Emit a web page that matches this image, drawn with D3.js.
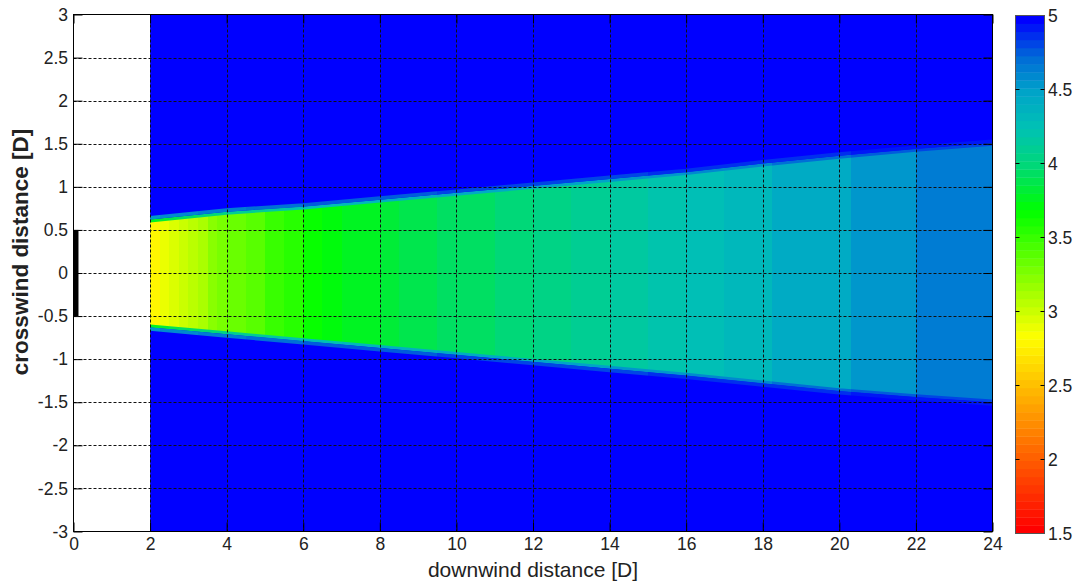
<!DOCTYPE html>
<html>
<head>
<meta charset="utf-8">
<script src="https://cdn.jsdelivr.net/npm/d3@7/dist/d3.min.js"></script>
<style>
  body { margin: 0; background: #fff; }
  text { font-family: "Liberation Sans", Arial, sans-serif; fill: #222; }
</style>
</head>
<body>
<svg id="chart" width="1080" height="588"></svg>
<script>
const colStart = [2, 2.25, 2.5, 2.75, 3, 3.25, 3.5, 3.75, 4, 4.5, 5, 5.5, 6, 6.5, 7, 7.5, 8, 8.5, 9, 9.5,
                  10, 11, 12, 13, 14, 15, 16, 17, 18.25, 20.3, 22];
const colValue = [2.80, 2.88, 2.95, 3.02, 3.08, 3.14, 3.20, 3.26, 3.32, 3.40, 3.48, 3.56, 3.64, 3.70, 3.75, 3.79, 3.83, 3.86, 3.89, 3.92,
                  3.95, 4.00, 4.05, 4.10, 4.15, 4.20, 4.25, 4.29, 4.44, 4.55, 4.66];
const xEnd = 24;
const freeValue = 5;   // value outside the wake

// wake edges (crosswind position of the boundary)
const edgeX     = [2, 4, 6, 8, 10, 12, 14, 16, 18, 20, 22, 24];
const edgeUpper = [0.61, 0.70, 0.76, 0.84, 0.92, 1.00, 1.08, 1.16, 1.26, 1.35, 1.43, 1.50];
const edgeLower = [-0.62, -0.70, -0.78, -0.86, -0.94, -1.02, -1.10, -1.18, -1.27, -1.36, -1.43, -1.49];

// rotor disk
const rotorX = [0, 0.13];
const rotorY = [-0.5, 0.5];

// ticks
const xTicks = [0, 2, 4, 6, 8, 10, 12, 14, 16, 18, 20, 22, 24];
const yTicks = [-3, -2.5, -2, -1.5, -1, -0.5, 0, 0.5, 1, 1.5, 2, 2.5, 3];
const cbTicks = [1.5, 2, 2.5, 3, 3.5, 4, 4.5, 5];

// colour map
const cmapStops  = [1.5, 2.82, 3.69, 4.0, 4.25, 4.5, 4.75, 5.0];
const cmapColors = ["#ff0000", "#ffff00", "#00ff00", "#00d878", "#00c2b4", "#00a4c8", "#0068d8", "#0000ff"];
const cmin = 1.5, cmax = 5, nLevels = 64;

const svg = d3.select("#chart");
const pLeft = 73.5, pRight = 992.5, pTop = 14.5, pBottom = 531.5;

const x = d3.scaleLinear().domain([0, 24]).range([pLeft, pRight]);
const y = d3.scaleLinear().domain([-3, 3]).range([pBottom, pTop]);

const cmap = d3.scaleLinear().domain(cmapStops).range(cmapColors).interpolate(d3.interpolateRgb).clamp(true);
// matlab style 64 entry colormap
const levels = d3.range(nLevels).map(i => cmap(cmin + i * (cmax - cmin) / (nLevels - 1)));
function colorOf(v) {
  let i = Math.floor((v - cmin) / (cmax - cmin) * nLevels);
  i = Math.max(0, Math.min(nLevels - 1, i));
  return levels[i];
}

const defs = svg.append("defs");
defs.append("clipPath").attr("id", "plotClip")
  .append("rect").attr("x", pLeft).attr("y", pTop).attr("width", pRight - pLeft).attr("height", pBottom - pTop);

const area = d3.area()
  .x((d, i) => x(edgeX[i]))
  .y0((d, i) => y(edgeLower[i]))
  .y1((d, i) => y(edgeUpper[i]));
defs.append("clipPath").attr("id", "wakeClip")
  .append("path").attr("d", area(edgeX));

// gradients for the soft edge of the wake
function edgeGradient(id, f) {
  const g = defs.append("linearGradient").attr("id", id)
    .attr("gradientUnits", "userSpaceOnUse")
    .attr("x1", x(colStart[0])).attr("x2", x(xEnd)).attr("y1", 0).attr("y2", 0);
  const span = xEnd - colStart[0];
  colStart.forEach((s, i) => {
    const e = i < colStart.length - 1 ? colStart[i + 1] : xEnd;
    const c = colorOf(colValue[i] + (freeValue - colValue[i]) * f);
    g.append("stop").attr("offset", (s - colStart[0]) / span).attr("stop-color", c);
    g.append("stop").attr("offset", (e - colStart[0]) / span).attr("stop-color", c);
  });
}
edgeGradient("edgeInner", 0.45);
edgeGradient("edgeOuter", 0.8);

const plot = svg.append("g").attr("clip-path", "url(#plotClip)");

// free stream background
plot.append("rect")
  .attr("x", x(colStart[0])).attr("y", pTop)
  .attr("width", x(xEnd) - x(colStart[0])).attr("height", pBottom - pTop)
  .attr("fill", colorOf(freeValue));

// wake columns
const wake = plot.append("g").attr("clip-path", "url(#wakeClip)");
wake.selectAll("rect").data(colStart).join("rect")
  .attr("x", d => x(d))
  .attr("width", (d, i) => x(i < colStart.length - 1 ? colStart[i + 1] : xEnd) - x(d) + 0.5)
  .attr("y", y(2)).attr("height", y(-2) - y(2))
  .attr("fill", (d, i) => colorOf(colValue[i]))
  .attr("shape-rendering", "crispEdges");

// soft edges
const upperLine = d3.line().x((d, i) => x(edgeX[i])).y((d, i) => y(edgeUpper[i]));
const lowerLine = d3.line().x((d, i) => x(edgeX[i])).y((d, i) => y(edgeLower[i]));
[[upperLine, -1], [lowerLine, 1]].forEach(([ln, dir]) => {
  plot.append("path").attr("d", ln(edgeX)).attr("fill", "none")
    .attr("stroke", "url(#edgeInner)").attr("stroke-width", 3)
    .attr("transform", `translate(0,${-dir * 0.5})`);
  plot.append("path").attr("d", ln(edgeX)).attr("fill", "none")
    .attr("stroke", "url(#edgeOuter)").attr("stroke-width", 3.5)
    .attr("transform", `translate(0,${dir * 2.6})`);
});

// grid
const gridX = xTicks.filter(d => d > 0 && d < 24);
const gridY = yTicks.filter(d => d > -3 && d < 3);
const grid = svg.append("g").attr("stroke", "#111").attr("stroke-width", 1).attr("stroke-dasharray", "3,2");
grid.selectAll(".gx").data(gridX).join("line").attr("class", "gx")
  .attr("x1", d => Math.round(x(d)) + 0.5).attr("x2", d => Math.round(x(d)) + 0.5)
  .attr("y1", pTop).attr("y2", pBottom);
grid.selectAll(".gy").data(gridY).join("line").attr("class", "gy")
  .attr("y1", d => Math.round(y(d)) + 0.5).attr("y2", d => Math.round(y(d)) + 0.5)
  .attr("x1", pLeft).attr("x2", pRight);

// rotor
svg.append("rect")
  .attr("x", x(rotorX[0])).attr("width", x(rotorX[1]) - x(rotorX[0]))
  .attr("y", y(rotorY[1])).attr("height", y(rotorY[0]) - y(rotorY[1]))
  .attr("fill", "#000");

// axes
const fmt = d => String(d);
const xAxis = d3.axisBottom(x).tickValues(xTicks).tickFormat(fmt).tickSizeInner(-9).tickSizeOuter(0).tickPadding(6);
const yAxis = d3.axisLeft(y).tickValues(yTicks).tickFormat(fmt).tickSizeInner(-9).tickSizeOuter(0).tickPadding(5.5);
const xTop = d3.axisTop(x).tickValues(xTicks).tickFormat("").tickSizeInner(-9).tickSizeOuter(0);
const yRight = d3.axisRight(y).tickValues(yTicks).tickFormat("").tickSizeInner(-9).tickSizeOuter(0);

function styleAxis(g) {
  g.select(".domain").remove();
  g.selectAll("line").attr("stroke", "#000");
  g.selectAll("text").attr("fill", "#222").style("font-size", "17.5px")
    .style("font-family", '"Liberation Sans", Arial, sans-serif');
}
svg.append("g").attr("transform", `translate(0,${pBottom})`).call(xAxis).call(styleAxis);
svg.append("g").attr("transform", `translate(${pLeft},0)`).call(yAxis).call(styleAxis);
svg.append("g").attr("transform", `translate(0,${pTop})`).call(xTop).call(styleAxis);
svg.append("g").attr("transform", `translate(${pRight},0)`).call(yRight).call(styleAxis);

svg.append("rect").attr("x", pLeft).attr("y", pTop).attr("width", pRight - pLeft).attr("height", pBottom - pTop)
  .attr("fill", "none").attr("stroke", "#000").attr("stroke-width", 1);

// axis labels
svg.append("text")
  .attr("x", (pLeft + pRight) / 2).attr("y", 577)
  .attr("text-anchor", "middle").style("font-size", "21px")
  .text("downwind distance [D]");
svg.append("text")
  .attr("transform", "translate(28,252) rotate(-90)")
  .attr("text-anchor", "middle").style("font-size", "22.5px").style("font-weight", "bold")
  .text("crosswind distance [D]");

// colour bar
const cbLeft = 1015.5, cbRight = 1044.5;
const cb = d3.scaleLinear().domain([cmin, cmax]).range([533.5, 15.5]);
const cbg = svg.append("g");
cbg.selectAll("rect").data(levels).join("rect")
  .attr("x", cbLeft).attr("width", cbRight - cbLeft)
  .attr("y", (d, i) => cb(cmin + (i + 1) * (cmax - cmin) / nLevels))
  .attr("height", (d, i) => cb(cmin + i * (cmax - cmin) / nLevels) - cb(cmin + (i + 1) * (cmax - cmin) / nLevels) + 0.4)
  .attr("fill", d => d);
cbg.append("rect").attr("x", cbLeft).attr("y", cb(cmax)).attr("width", cbRight - cbLeft).attr("height", cb(cmin) - cb(cmax))
  .attr("fill", "none").attr("stroke", "#555");
const inner = cbTicks.filter(d => d > cmin && d < cmax);
cbg.selectAll(".tl").data(inner).join("line").attr("class", "tl")
  .attr("x1", cbLeft).attr("x2", cbLeft + 4).attr("y1", d => cb(d)).attr("y2", d => cb(d)).attr("stroke", "#000");
cbg.selectAll(".tr").data(inner).join("line").attr("class", "tr")
  .attr("x1", cbRight - 4).attr("x2", cbRight).attr("y1", d => cb(d)).attr("y2", d => cb(d)).attr("stroke", "#000");
cbg.selectAll("text").data(cbTicks).join("text")
  .attr("x", cbRight + 3.5).attr("y", d => cb(d)).attr("dy", "0.35em")
  .style("font-size", "17.5px").text(fmt);
</script>
</body>
</html>
